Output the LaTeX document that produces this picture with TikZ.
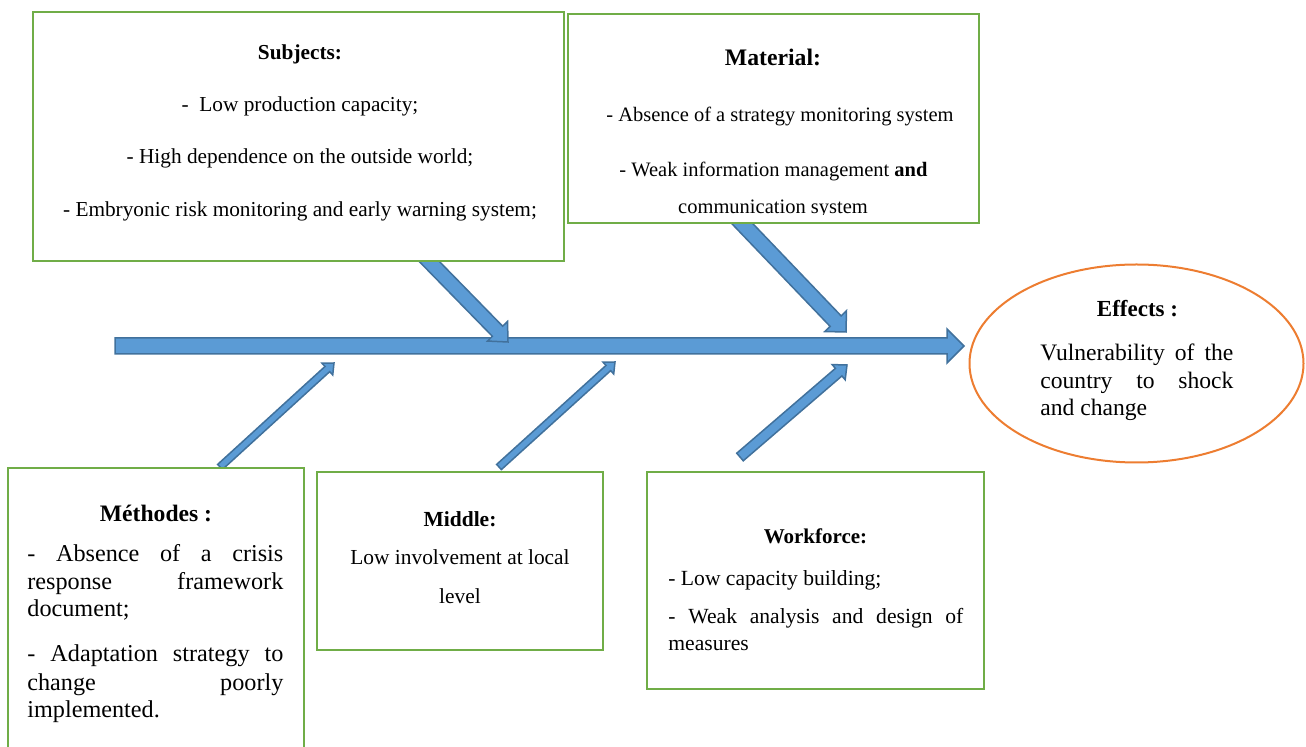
\documentclass[tikz,border=0pt]{standalone}
\usepackage{fontspec}
\setmainfont{Liberation Serif}
\usetikzlibrary{calc,shapes.geometric}

\definecolor{boxgreen}{HTML}{70AD47}
\definecolor{arrowfill}{HTML}{5B9BD5}
\definecolor{arrowline}{HTML}{41719C}
\definecolor{effectorange}{HTML}{ED7D31}

% block arrow: #1 tail, #2 tip, #3 shaft half width, #4 head half width, #5 head length
\newcommand{\blockarr}[5]{%
  \path ($(#2)!#5!(#1)$) coordinate (hb);
  \filldraw[arrowbody] ($(#1)!#3!90:(#2)$) -- ($(hb)!#3!90:(#2)$) -- ($(hb)!#4!90:(#2)$)
    -- (#2) -- ($(hb)!#4!-90:(#2)$) -- ($(hb)!#3!-90:(#2)$) -- ($(#1)!#3!-90:(#2)$) -- cycle;
}

\tikzset{
  causebox/.style={draw=boxgreen, line width=1pt, fill=white, rectangle, inner sep=0pt},
  arrowbody/.style={fill=arrowfill, draw=arrowline, line width=0.75pt, line join=miter},
  effectshape/.style={draw=effectorange, line width=1pt, ellipse, fill=white, inner sep=0pt,
    minimum width=167pt, minimum height=99pt},
  txt/.style={inner sep=0pt, anchor=base},
  txtl/.style={inner sep=0pt, anchor=base west},
}

\begin{document}
\begin{tikzpicture}[x=0.5pt, y=-0.5pt]
\clip (0,0) rectangle (1306,747);

% spine of the fishbone
\coordinate (spS) at (115,346);
\coordinate (spT) at (964,346);
\blockarr{spS}{spT}{4pt}{8.5pt}{8.5pt}

% branch end points
\coordinate (sA) at (421,253);  \coordinate (sT) at (508,342);
\coordinate (tA) at (735,216);  \coordinate (tT) at (846,332);
\coordinate (mA) at (220,467);  \coordinate (mT) at (334,363);
\coordinate (dA) at (499,467);  \coordinate (dT) at (615,362);
\coordinate (wA) at (740,457);  \coordinate (wT) at (847,365);

% branches
\blockarr{sA}{sT}{3.6pt}{7pt}{7.5pt}
\blockarr{tA}{tT}{3.8pt}{7.5pt}{7.5pt}
\blockarr{mA}{mT}{1.75pt}{4pt}{4.5pt}
\blockarr{dA}{dT}{1.75pt}{4pt}{4.5pt}
\blockarr{wA}{wT}{2.5pt}{5pt}{5.5pt}

% cause boxes
\node[causebox, minimum width=205.5pt, minimum height=104.5pt] (material) at (773.5,118.5) {};
\node[causebox, minimum width=265.5pt, minimum height=124.5pt] (subjects) at (298.5,136.5) {};
\node[causebox, minimum width=148pt, minimum height=161pt] (methodes) at (156,629) {};
\node[causebox, minimum width=143pt, minimum height=89pt] (middle) at (460,561) {};
\node[causebox, minimum width=168.5pt, minimum height=108.5pt] (workforce) at (815.5,580.5) {};

% effect
\node[effectshape] (effects) at (1136.5,363.5) {};

% Subjects
\node[txt, font=\fontsize{10.65}{12}\selectfont\bfseries] (subjH) at (300,60) {Subjects:};
\node[txt, font=\fontsize{10.65}{12}\selectfont] (subj1) at (300,112) {-\ \ Low production capacity;};
\node[txt, font=\fontsize{10.65}{12}\selectfont] (subj2) at (300,164) {- High dependence on the outside world;};
\node[txt, font=\fontsize{10.65}{12}\selectfont] (subj3) at (300,217) {- Embryonic risk monitoring and early warning system;};

% Material
\node[txt, font=\fontsize{11.85}{13}\selectfont\bfseries] (matH) at (773,66) {Material:};
\node[txt, font=\fontsize{10.25}{12}\selectfont] (mat1) at (780,122) {- Absence of a strategy monitoring system};
\node[txt, font=\fontsize{10.25}{12}\selectfont] (mat2) at (773.5,177) {- Weak information management \textbf{and}};
\begin{scope}
  \clip (568,150) rectangle (979,215);
  \node[txt, font=\fontsize{10.25}{12}\selectfont] (mat3) at (773,214) {communication system};
\end{scope}

% Methodes
\node[txt, font=\fontsize{11.8}{13}\selectfont\bfseries] (metH) at (156,522) {Méthodes :};
\node[txtl, font=\fontsize{12.1}{14}\selectfont] (met1) at (27,562) {\makebox[128pt][s]{- Absence of a crisis}};
\node[txtl, font=\fontsize{12.1}{14}\selectfont] (met2) at (27,590) {\makebox[128pt][s]{response framework}};
\node[txtl, font=\fontsize{12.1}{14}\selectfont] (met3) at (27,617) {document;};
\node[txtl, font=\fontsize{12.1}{14}\selectfont] (met4) at (27,662) {\makebox[128pt][s]{- Adaptation strategy to}};
\node[txtl, font=\fontsize{12.1}{14}\selectfont] (met5) at (27,690) {\makebox[128pt][s]{change poorly}};
\node[txtl, font=\fontsize{12.1}{14}\selectfont] (met6) at (27,718) {implemented.};

% Middle
\node[txt, font=\fontsize{10.75}{12}\selectfont\bfseries] (midH) at (460,527) {Middle:};
\node[txt, font=\fontsize{10.7}{12}\selectfont] (mid1) at (460,565) {Low involvement at local};
\node[txt, font=\fontsize{10.7}{12}\selectfont] (mid2) at (460,604) {level};

% Workforce
\node[txt, font=\fontsize{10.5}{12}\selectfont\bfseries] (wrkH) at (815.5,544) {Workforce:};
\node[txtl, font=\fontsize{10.8}{12}\selectfont] (wrk1) at (668,586) {- Low capacity building;};
\node[txtl, font=\fontsize{10.8}{12}\selectfont] (wrk2) at (668,624) {\makebox[147.5pt][s]{- Weak analysis and design of}};
\node[txtl, font=\fontsize{10.8}{12}\selectfont] (wrk3) at (668,651) {measures};

% Effects
\node[txt, font=\fontsize{11.5}{13}\selectfont\bfseries] (effH) at (1137.5,317) {Effects :};
\node[txtl, font=\fontsize{11.8}{14}\selectfont] (eff1) at (1040,361) {\makebox[96.5pt][s]{Vulnerability of the}};
\node[txtl, font=\fontsize{11.8}{14}\selectfont] (eff2) at (1040,389) {\makebox[96.5pt][s]{country to shock}};
\node[txtl, font=\fontsize{11.8}{14}\selectfont] (eff3) at (1040,416) {and change};
\end{tikzpicture}
\end{document}
